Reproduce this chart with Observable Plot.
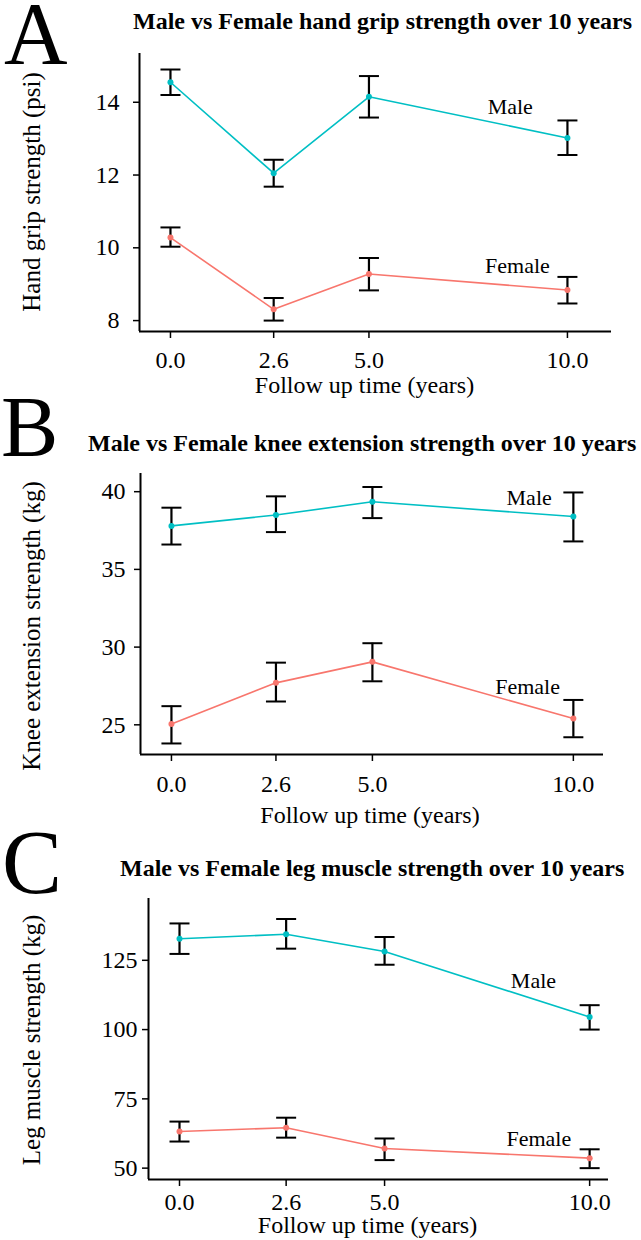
<!DOCTYPE html>
<html>
<head>
<meta charset="utf-8">
<script src="https://cdn.jsdelivr.net/npm/d3@7"></script>
<script src="https://cdn.jsdelivr.net/npm/@observablehq/plot@0.6"></script>
<style>
  body { margin: 0; background: #fff; }
  #root { position: relative; width: 641px; height: 1240px; overflow: hidden;
          font-family: "Liberation Serif", "Times New Roman", serif; color: #000; background: #fff; }
  .abs { position: absolute; white-space: nowrap; line-height: 1; }
  .panel { position: absolute; left: 0; }
</style>
</head>
<body>
<div id="root"></div>
<script>
// ---------- data ----------
const times = [0, 2.6, 5, 10];
const seriesNames = ["Male", "Female"];
const seriesColors = ["#00BFC4", "#F8766D"];
const panelLetters = ["A", "B", "C"];
const panelTitles = [
  "Male vs Female hand grip strength over 10 years",
  "Male vs Female knee extension strength over 10 years",
  "Male vs Female leg muscle strength over 10 years"
];
const yAxisLabels = [
  "Hand grip strength (psi)",
  "Knee extension strength (kg)",
  "Leg muscle strength (kg)"
];
const xAxisLabel = "Follow up time (years)";

// A: hand grip
const gripTicks = [8, 10, 12, 14];
const gripMale = [14.55, 12.05, 14.15, 13.02];
const gripMaleLo = [14.2, 11.68, 13.58, 12.55];
const gripMaleHi = [14.9, 12.42, 14.72, 13.5];
const gripFemale = [10.28, 8.31, 9.28, 8.84];
const gripFemaleLo = [10.03, 8.0, 8.83, 8.47];
const gripFemaleHi = [10.56, 8.62, 9.72, 9.2];
const gripLabelX = [8.56, 8.74];
const gripLabelY = [13.88, 9.5];

// B: knee extension
const kneeTicks = [25, 30, 35, 40];
const kneeMale = [37.8, 38.5, 39.35, 38.4];
const kneeMaleLo = [36.6, 37.4, 38.3, 36.8];
const kneeMaleHi = [38.97, 39.7, 40.3, 39.95];
const kneeFemale = [25.06, 27.7, 29.05, 25.4];
const kneeFemaleLo = [23.8, 26.5, 27.8, 24.2];
const kneeFemaleHi = [26.2, 29.0, 30.25, 26.6];
const kneeLabelX = [8.9, 8.86];
const kneeLabelY = [39.6, 27.45];

// C: leg muscle
const legTicks = [50, 75, 100, 125];
const legMale = [132.8, 134.4, 128.2, 104.5];
const legMaleLo = [127.3, 129.2, 123.4, 100];
const legMaleHi = [138.3, 139.9, 133.4, 108.8];
const legFemale = [63.2, 64.6, 57.1, 53.6];
const legFemaleLo = [59.6, 61, 52.9, 50];
const legFemaleHi = [66.8, 68.2, 60.7, 56.8];
const legLabelX = [8.63, 8.76];
const legLabelY = [117.5, 60.7];

// ---------- helpers ----------
function rows(name, vals, lo, hi) {
  return times.map((t, i) => ({t, v: vals[i], lo: lo[i], hi: hi[i], sex: name}));
}
const cap = { draw(ctx) { ctx.moveTo(-10, 0); ctx.lineTo(10, 0); } };

const root = document.getElementById("root");
function addText(text, css) {
  const d = document.createElement("div");
  d.className = "abs";
  d.textContent = text;
  Object.assign(d.style, css);
  root.appendChild(d);
  return d;
}

function panel(cfg) {
  const data = rows(seriesNames[0], cfg.male, cfg.maleLo, cfg.maleHi)
    .concat(rows(seriesNames[1], cfg.female, cfg.femaleLo, cfg.femaleHi));
  const labels = seriesNames.map((n, i) => ({text: n, x: cfg.labX[i], y: cfg.labY[i]}));
  const chart = Plot.plot({
    width: 641,
    height: cfg.height,
    marginTop: cfg.mt, marginBottom: cfg.mb, marginLeft: cfg.ml, marginRight: cfg.mr,
    style: {fontFamily: '"Liberation Serif", "Times New Roman", serif', color: "#000", background: "transparent", overflow: "visible"},
    x: {domain: cfg.xDomain},
    y: {domain: cfg.yDomain},
    color: {domain: seriesNames, range: seriesColors},
    marks: [
      Plot.axisX({ticks: times, tickFormat: d => d.toFixed(1), tickSize: 7, tickPadding: cfg.padX,
                  fontSize: 24, strokeWidth: 1.5, label: null}),
      Plot.axisY({ticks: cfg.ticks, tickSize: 6, tickPadding: cfg.padY,
                  fontSize: 24, strokeWidth: 1.5, label: null}),
      Plot.ruleY([cfg.yDomain[0]], {stroke: "#000", strokeWidth: 2}),
      Plot.ruleX([cfg.xDomain[0]], {stroke: "#000", strokeWidth: 2}),
      Plot.line(data, {x: "t", y: "v", z: "sex", stroke: "sex", strokeWidth: 1.6}),
      Plot.ruleX(data, {x: "t", y1: "lo", y2: "hi", stroke: "#000", strokeWidth: 2.2}),
      Plot.dot(data, {x: "t", y: "hi", symbol: cap, stroke: "#000", strokeWidth: 2, fill: "none"}),
      Plot.dot(data, {x: "t", y: "lo", symbol: cap, stroke: "#000", strokeWidth: 2, fill: "none"}),
      Plot.dot(data, {x: "t", y: "v", fill: "sex", r: 3}),
      Plot.text(labels, {x: "x", y: "y", text: "text", fontSize: 22, fill: "#000"})
    ]
  });
  const wrap = document.createElement("div");
  wrap.className = "panel";
  wrap.style.top = cfg.top + "px";
  wrap.appendChild(chart);
  root.appendChild(wrap);
}

// ---------- panels ----------
panel({top: 0, height: 400, mt: 53, mb: 69, ml: 139, mr: 30,
  xDomain: [-0.78, 11.11], yDomain: [7.70, 15.34], ticks: gripTicks, padX: 12, padY: 14,
  male: gripMale, maleLo: gripMaleLo, maleHi: gripMaleHi,
  female: gripFemale, femaleLo: gripFemaleLo, femaleHi: gripFemaleHi,
  labX: gripLabelX, labY: gripLabelY});

panel({top: 410, height: 420, mt: 63, mb: 76, ml: 140, mr: 38,
  xDomain: [-0.77, 10.75], yDomain: [23.09, 41.17], ticks: kneeTicks, padX: 13, padY: 9,
  male: kneeMale, maleLo: kneeMaleLo, maleHi: kneeMaleHi,
  female: kneeFemale, femaleLo: kneeFemaleLo, femaleHi: kneeFemaleHi,
  labX: kneeLabelX, labY: kneeLabelY});

panel({top: 830, height: 410, mt: 68, mb: 61, ml: 148, mr: 33,
  xDomain: [-0.756, 10.46], yDomain: [45.9, 147.3], ticks: legTicks, padX: 6, padY: 5,
  male: legMale, maleLo: legMaleLo, maleHi: legMaleHi,
  female: legFemale, femaleLo: legFemaleLo, femaleHi: legFemaleHi,
  labX: legLabelX, labY: legLabelY});

// ---------- letters, titles, axis labels ----------
addText(panelLetters[0], {left: "4px", top: "1px", fontSize: "88px", lineHeight: "66px"});
addText(panelLetters[1], {left: "1px", top: "384px", fontSize: "86px"});
addText(panelLetters[2], {left: "2px", top: "818px", fontSize: "90px"});

addText(panelTitles[0], {left: "133px", top: "9px", fontSize: "24px", fontWeight: "bold"});
addText(panelTitles[1], {left: "88px", top: "431px", fontSize: "24px", fontWeight: "bold"});
addText(panelTitles[2], {left: "120px", top: "856px", fontSize: "24px", fontWeight: "bold"});

const yCenters = [192, 626, 1040];
yAxisLabels.forEach((t, i) => {
  addText(t, {left: "31px", top: yCenters[i] + "px", fontSize: "25px",
    transform: "translate(-50%, -50%) rotate(-90deg)"});
});

const xLabelPos = [[364.5, 373], [370, 803], [367.5, 1213]];
xLabelPos.forEach(([cx, top]) => {
  addText(xAxisLabel, {left: cx + "px", top: top + "px", fontSize: "24px", transform: "translateX(-50%)"});
});
</script>
</body>
</html>
